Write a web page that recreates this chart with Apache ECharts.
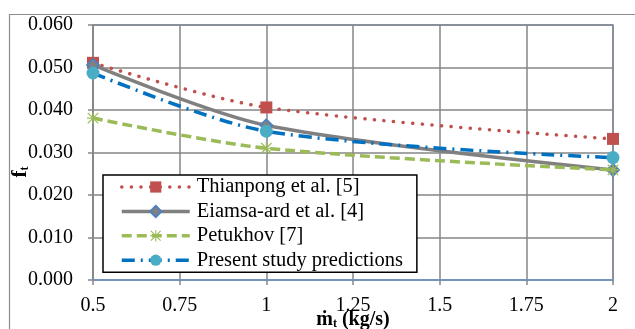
<!DOCTYPE html>
<html><head><meta charset="utf-8">
<script src="https://cdn.jsdelivr.net/npm/echarts@6/dist/echarts.min.js"></script>
<style>html,body{margin:0;padding:0;background:#fff}#c{width:635px;height:329px}</style>
</head><body><div id="c"></div>
<script>
const massFlow = [0.5, 1, 2];
const thianpong = [0.0511, 0.0406, 0.0332];
const eiamsa = [0.0506, 0.0364, 0.0259];
const petukhov = [0.0381, 0.0310, 0.0259];
const present = [0.0487, 0.0350, 0.0288];
const seriesNames = ['Thianpong et al. [5]', 'Eiamsa-ard et al. [4]', 'Petukhov [7]', 'Present study predictions'];
const yTicks = [0, 0.06, 0.01];
const xTicks = [0.5, 2, 0.25];

const pair = arr => massFlow.map((x, i) => [x, arr[i]]);
const star = 'path://M4.5 0h1v10h-1Z M0 4.5h10v1h-10Z M1 0.3L9.7 9L9 9.7L0.3 1Z M9 0.3L9.7 1L1 9.7L0.3 9Z';
const serif = '"Liberation Serif", "Times New Roman", serif';

const chart = echarts.init(document.getElementById('c'));
chart.setOption({
  animation: false,
  grid: { left: 93, right: 22, top: 25, bottom: 49, show: true, borderColor: '#6F97C9', borderWidth: 1.5, backgroundColor: 'transparent' },
  xAxis: {
    type: 'value', min: xTicks[0], max: xTicks[1], interval: xTicks[2],
    axisLine: { show: true, lineStyle: { color: '#6F97C9', width: 1.5 } },
    axisTick: { show: true, length: 5, lineStyle: { color: '#868686', width: 1.5 } },
    axisLabel: { fontFamily: serif, fontSize: 20, color: '#000', margin: 16 },
    splitLine: { show: true, lineStyle: { color: '#868686', width: 1.5 } }
  },
  yAxis: {
    type: 'value', min: yTicks[0], max: yTicks[1], interval: yTicks[2],
    axisLine: { show: true, lineStyle: { color: '#868686', width: 1.5 } },
    axisTick: { show: true, length: 5, lineStyle: { color: '#868686', width: 1.5 } },
    axisLabel: { fontFamily: serif, fontSize: 20, color: '#000', margin: 20, formatter: v => v.toFixed(3) },
    splitLine: { show: true, lineStyle: { color: '#868686', width: 1.5 } }
  },
  legend: {
    orient: 'vertical', left: 103, top: 175,
    backgroundColor: '#fff', borderColor: '#000', borderWidth: 1.5,
    padding: [0, 14, 0, 17], itemGap: 0.4, itemWidth: 68, itemHeight: 14,
    lineStyle: { width: 3.5 },
    textStyle: { fontFamily: serif, fontSize: 20.5, color: '#000', lineHeight: 24, padding: [0, 0, 0, 2] },
    data: seriesNames.map(n => ({ name: n, lineStyle: { width: 3.5 } }))
  },
  series: [
    { name: seriesNames[0], type: 'line', smooth: 0.3, data: pair(thianpong),
      symbol: 'rect', symbolSize: 12,
      lineStyle: { color: '#C0504D', width: 3.5, type: [0.1, 9.5], cap: 'round' },
      itemStyle: { color: '#C0504D', borderColor: '#C0504D', borderWidth: 0 }, z: 2 },
    { name: seriesNames[1], type: 'line', smooth: 0.3, data: pair(eiamsa),
      symbol: 'diamond', symbolSize: 12,
      lineStyle: { color: '#808080', width: 3.5, type: 'solid' },
      itemStyle: { color: '#808080', borderColor: '#4F81BD', borderWidth: 1.8 }, z: 3 },
    { name: seriesNames[2], type: 'line', smooth: 0.3, data: pair(petukhov),
      symbol: star, symbolSize: 12,
      lineStyle: { color: '#9BBB59', width: 3.5, type: [10, 5] },
      itemStyle: { color: '#9BBB59' }, z: 4 },
    { name: seriesNames[3], type: 'line', smooth: 0.3, data: pair(present),
      symbol: 'circle', symbolSize: 13,
      lineStyle: { color: '#0070C0', width: 3.5, type: [13, 6, 2, 6] },
      itemStyle: { color: '#4BACC6' }, z: 5 }
  ],
  graphic: [
    { type: 'rect', left: 7, top: 12, z: -10, shape: { width: 640, height: 330 }, style: { fill: 'none', stroke: '#8C8C8C', lineWidth: 1.2 } },
    { type: 'text', x: 353, y: 320, style: { text: '{a|ṁ}{s|t}{a| (kg/s)}', align: 'center', verticalAlign: 'middle',
        rich: { a: { fontFamily: serif, fontSize: 20, fontWeight: 'bold', fill: '#000' }, s: { fontFamily: serif, fontSize: 12, fontWeight: 'bold', fill: '#000', padding: [8, 0, 0, 0] } } } },
    { type: 'text', x: 21, y: 172, rotation: Math.PI / 2, style: { text: '{a|f}{s|t}', align: 'center', verticalAlign: 'middle',
        rich: { a: { fontFamily: serif, fontSize: 21, fontWeight: 'bold', fill: '#000' }, s: { fontFamily: serif, fontSize: 12, fontWeight: 'bold', fill: '#000', padding: [8, 0, 0, 0] } } } }
  ]
});
</script></body></html>
